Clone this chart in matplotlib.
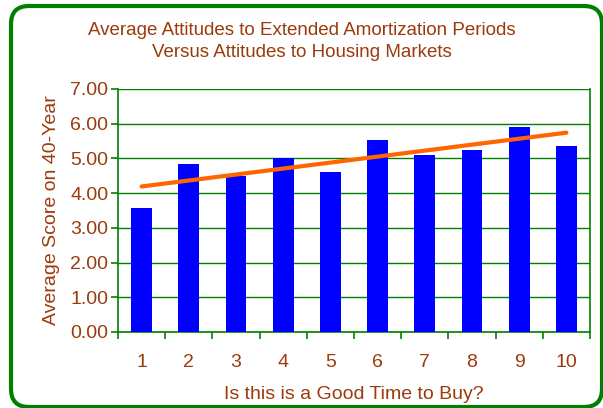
import numpy as np
import matplotlib
matplotlib.use("Agg")
import matplotlib.pyplot as plt
from matplotlib.patches import FancyBboxPatch
from matplotlib.transforms import IdentityTransform

plt.rcParams['font.family'] = ['Liberation Sans', 'DejaVu Sans']

categories = [1, 2, 3, 4, 5, 6, 7, 8, 9, 10]
scores = [3.56, 4.85, 4.50, 5.02, 4.60, 5.53, 5.10, 5.24, 5.91, 5.35]
yticks = [0, 1, 2, 3, 4, 5, 6, 7]

brown = '#9C3A0C'
green = '#008000'

fig = plt.figure(figsize=(6.03, 4.08), dpi=100)
ax = fig.add_axes([0.1957, 0.1863, 0.7827, 0.5956])

x = np.arange(len(categories))
ax.bar(x, scores, width=0.44, color='#0000FF', zorder=3)

# linear trendline
slope, icept = np.polyfit(x, scores, 1)
ax.plot([x[0], x[-1]], [icept + slope * x[0], icept + slope * x[-1]],
	color='#FF6600', lw=3, solid_capstyle='round', zorder=4)

ax.set_xlim(-0.5, len(categories) - 0.5)
ax.set_ylim(0, 7)
ax.set_yticks(yticks)
ax.set_yticklabels([f"{v:.2f}" for v in yticks])
ax.set_xticks(x)
ax.set_xticklabels([str(c) for c in categories])
ax.set_xticks(np.arange(len(categories) + 1) - 0.5, minor=True)

ax.grid(axis='y', color=green, lw=1, zorder=1)
for s in ax.spines.values():
	s.set_color(green)
	s.set_linewidth(1.2)
ax.spines['top'].set_visible(False)

ax.tick_params(axis='y', colors=green, labelcolor=brown, labelsize=14,
	length=5, width=1.2, pad=2)
ax.tick_params(axis='x', which='major', length=0, labelcolor=brown,
	labelsize=14, pad=16)
ax.tick_params(axis='x', which='minor', colors=green, length=5, width=1.2)

ax.set_xlabel("Is this is a Good Time to Buy?", color=brown, fontsize=14,
	labelpad=11)
ax.set_ylabel("Average Score on 40-Year", color=brown, fontsize=14,
	labelpad=7)

fig.text(0.5, 0.945, "Average Attitudes to Extended Amortization Periods\n"
	"Versus Attitudes to Housing Markets", ha='center', va='top',
	color=brown, fontsize=13.5, linespacing=1.38)

frame = FancyBboxPatch((11, 1), 591, 401, boxstyle="round,pad=0,rounding_size=18",
	transform=IdentityTransform(), fill=False, edgecolor=green, lw=3)
fig.patches.append(frame)

fig.savefig("out.png", dpi=100)
